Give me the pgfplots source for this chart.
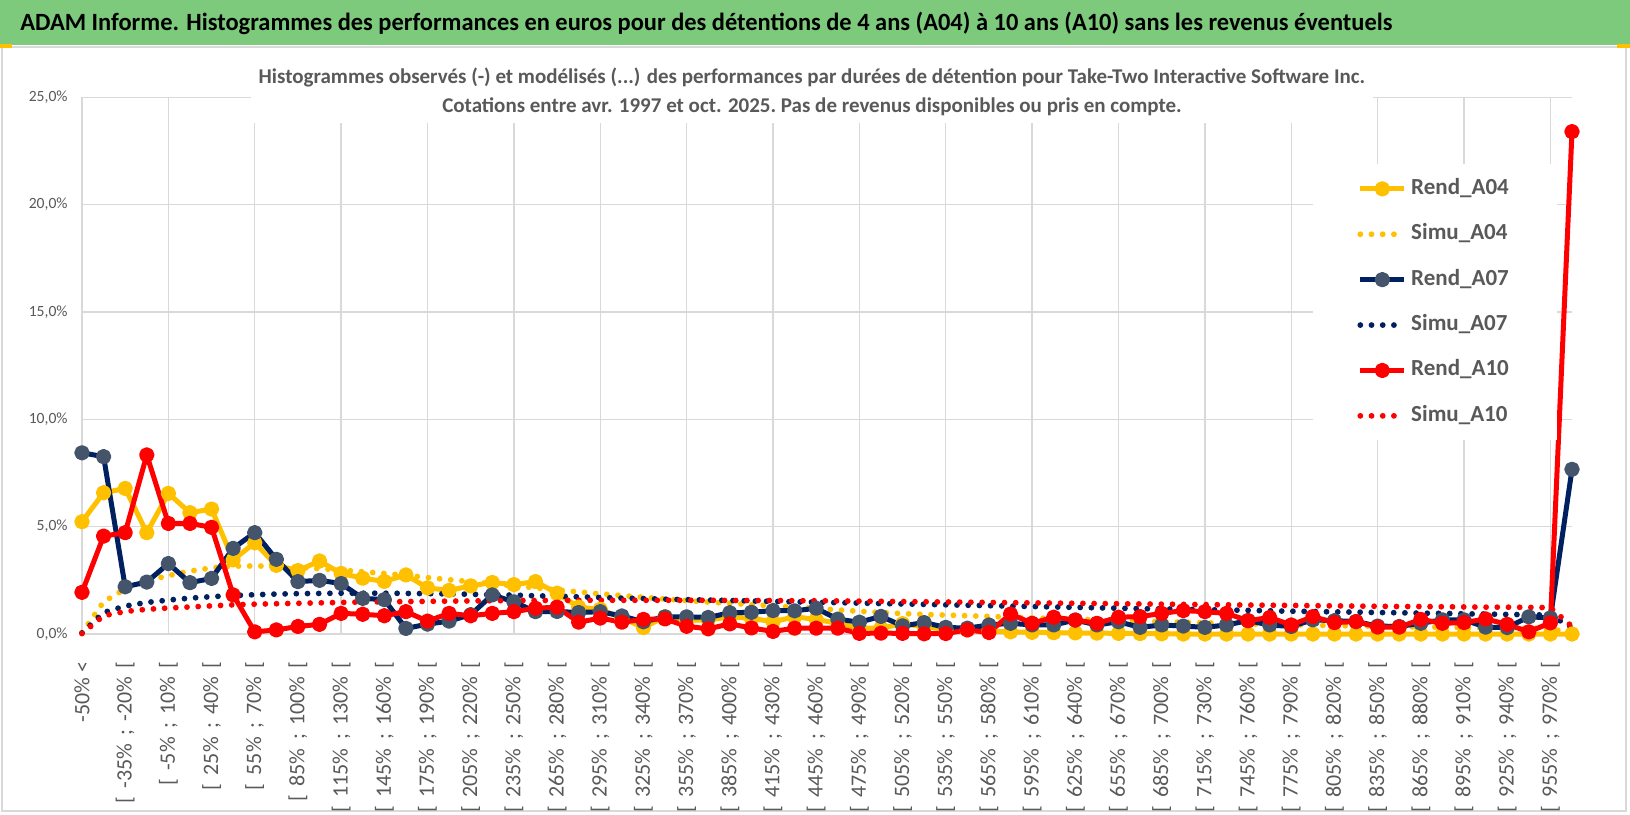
\documentclass[border=0pt]{standalone}
\usepackage{pgfplots}
\pgfplotsset{compat=1.18}
\usepackage{pgfplotstable}
\usepackage{graphicx}
\usepackage{fontspec}
\setmainfont{Carlito}

\definecolor{gold}{RGB}{255,192,0}
\definecolor{navy}{RGB}{0,32,96}
\definecolor{slate}{RGB}{68,84,106}
\definecolor{rred}{RGB}{255,0,0}
\definecolor{txtgrey}{RGB}{89,89,89}
\definecolor{gridgrey}{RGB}{217,217,217}
\definecolor{bargreen}{RGB}{125,202,125}

\newcommand{\lsp}{\hspace{0.38em}}
\newcommand{\lab}[2]{[\lsp#1\%\lsp;\lsp#2\%\lsp[}

\pgfplotstableread{
i a04 s04 a07 s07 a10 s10
0 5.23 0.05 8.44 0.05 1.94 0.02
1 6.58 1.5 8.26 1.0 4.56 0.85
2 6.78 2.1 2.2 1.3 4.72 1.05
3 4.72 2.48 2.42 1.47 8.34 1.15
4 6.55 2.72 3.28 1.58 5.15 1.21
5 5.65 2.93 2.39 1.67 5.15 1.26
6 5.82 3.08 2.59 1.74 4.97 1.31
7 3.45 3.16 3.99 1.79 1.82 1.36
8 4.25 3.17 4.72 1.83 0.1 1.39
9 3.2 3.15 3.48 1.86 0.19 1.41
10 2.95 3.1 2.44 1.88 0.35 1.43
11 3.4 3.04 2.5 1.89 0.45 1.45
12 2.82 2.98 2.35 1.9 0.96 1.47
13 2.6 2.9 1.66 1.9 0.92 1.49
14 2.45 2.82 1.6 1.9 0.85 1.5
15 2.75 2.73 0.26 1.89 1.04 1.51
16 2.15 2.63 0.46 1.88 0.6 1.52
17 2.03 2.53 0.6 1.87 0.96 1.53
18 2.24 2.44 0.9 1.85 0.85 1.54
19 2.4 2.34 1.82 1.83 0.96 1.55
20 2.3 2.25 1.5 1.81 1.04 1.56
21 2.44 2.15 1.04 1.78 1.2 1.56
22 1.9 2.05 1.05 1.76 1.25 1.57
23 1.25 1.96 1.0 1.73 0.55 1.57
24 1.15 1.87 1.04 1.7 0.74 1.57
25 0.75 1.79 0.84 1.67 0.55 1.57
26 0.3 1.71 0.57 1.65 0.68 1.57
27 0.8 1.63 0.8 1.62 0.7 1.57
28 0.65 1.56 0.8 1.6 0.36 1.57
29 0.65 1.49 0.77 1.58 0.24 1.57
30 0.8 1.43 0.99 1.56 0.47 1.56
31 0.73 1.37 1.01 1.54 0.28 1.56
32 0.57 1.31 1.09 1.52 0.12 1.56
33 0.8 1.25 1.08 1.5 0.27 1.55
34 0.68 1.19 1.2 1.48 0.27 1.55
35 0.5 1.12 0.69 1.46 0.27 1.54
36 0.27 1.06 0.55 1.44 0.03 1.53
37 0.27 1.0 0.82 1.42 0.04 1.52
38 0.48 0.95 0.38 1.4 0.03 1.51
39 0.34 0.91 0.53 1.38 0.01 1.5
40 0.22 0.88 0.31 1.36 0.02 1.49
41 0.19 0.85 0.27 1.34 0.19 1.48
42 0.12 0.82 0.42 1.32 0.07 1.47
43 0.1 0.79 0.5 1.3 0.93 1.46
44 0.08 0.75 0.42 1.28 0.5 1.45
45 0.06 0.72 0.42 1.26 0.78 1.44
46 0.05 0.69 0.65 1.24 0.65 1.43
47 0.04 0.66 0.42 1.22 0.5 1.42
48 0.03 0.63 0.57 1.2 0.78 1.41
49 0.02 0.6 0.31 1.18 0.81 1.4
50 0.01 0.57 0.42 1.17 0.96 1.39
51 0 0.55 0.37 1.15 1.09 1.38
52 0 0.52 0.31 1.13 1.04 1.37
53 0 0.5 0.42 1.12 0.96 1.36
54 0 0.47 0.62 1.1 0.62 1.35
55 0 0.45 0.42 1.08 0.77 1.34
56 0 0.43 0.35 1.06 0.42 1.33
57 0 0.41 0.66 1.05 0.81 1.32
58 0 0.39 0.62 1.03 0.53 1.31
59 0 0.38 0.58 1.02 0.58 1.3
60 0 0.36 0.37 1.0 0.32 1.29
61 0 0.34 0.35 0.99 0.32 1.28
62 0 0.33 0.5 0.97 0.68 1.28
63 0 0.32 0.66 0.96 0.5 1.27
64 0 0.3 0.66 0.94 0.53 1.26
65 0 0.29 0.32 0.93 0.7 1.25
66 0 0.28 0.3 0.91 0.45 1.25
67 0 0.27 0.8 0.9 0.1 1.24
68 0 0.26 0.75 0.88 0.52 1.23
69 0 0.02 7.67 0.3 23.4 0.35
}\histdata

\pgfplotsset{
  rend/.style={line width=2.5pt, line join=round, mark=*, mark size=2.6pt},
  simu/.style={line width=2.9pt, line cap=round, dash pattern=on 0pt off 5.6pt},
}

\begin{document}
\begin{tikzpicture}
\useasboundingbox (0,0) rectangle (815pt,407.5pt);
\fill[white] (0,0) rectangle (815pt,407.5pt);
\draw[gridgrey, line width=0.8pt] (1pt,2pt) rectangle (813pt,384pt);
\fill[bargreen] (0,385pt) rectangle (815pt,407.5pt);
\fill[gold] (0,383.5pt) rectangle (6pt,385.5pt);
\fill[gold] (808.5pt,383.5pt) rectangle (815pt,385.5pt);
\node[anchor=west, inner sep=0pt] at (10pt,396pt)
  {\resizebox{686pt}{\height}{\fontsize{12.4}{14}\selectfont\bfseries ADAM Informe. Histogrammes des performances en euros pour des détentions de 4 ans (A04) à 10 ans (A10) sans les revenus éventuels}};

\begin{axis}[
  at={(41pt,90.5pt)}, anchor=south west,
  scale only axis, width=745pt, height=268.35pt,
  xmin=0, xmax=69, ymin=0, ymax=25,
  clip=false,
  axis line style={draw=none},
  major tick length=0pt, minor tick length=0pt,
  tick style={draw=none},
  xmajorgrids=false, ymajorgrids=true,
  xminorgrids=true,
  grid style={draw=gridgrey, line width=0.7pt},
  minor grid style={draw=gridgrey, line width=0.7pt},
  ytick={0,5,10,15,20,25},
  yticklabels={{0,0\%},{5,0\%},{10,0\%},{15,0\%},{20,0\%},{25,0\%}},
  yticklabel style={font=\fontsize{7.8}{9}\selectfont, text=txtgrey, inner sep=0pt},
  yticklabel shift=7pt,
  xtick={0,2,...,68},
  minor xtick={0,4,...,68},
  xticklabels={{-50\% <},{\lab{-35}{-20}},{\lab{-5}{10}},{\lab{25}{40}},{\lab{55}{70}},{\lab{85}{100}},{\lab{115}{130}},{\lab{145}{160}},{\lab{175}{190}},{\lab{205}{220}},{\lab{235}{250}},{\lab{265}{280}},{\lab{295}{310}},{\lab{325}{340}},{\lab{355}{370}},{\lab{385}{400}},{\lab{415}{430}},{\lab{445}{460}},{\lab{475}{490}},{\lab{505}{520}},{\lab{535}{550}},{\lab{565}{580}},{\lab{595}{610}},{\lab{625}{640}},{\lab{655}{670}},{\lab{685}{700}},{\lab{715}{730}},{\lab{745}{760}},{\lab{775}{790}},{\lab{805}{820}},{\lab{835}{850}},{\lab{865}{880}},{\lab{895}{910}},{\lab{925}{940}},{\lab{955}{970}}},
  xticklabel style={rotate=90, anchor=east, font=\fontsize{11}{12}\selectfont, text=txtgrey, inner sep=0pt},
  xticklabel shift=13.5pt,
  legend cell align=left,
  legend style={at={(0.8262,0.8758)}, anchor=north west, draw=none, fill=white,
    inner xsep=22pt, inner ysep=5pt, row sep=8.2pt,
    font=\fontsize{11.5}{13}\selectfont\bfseries, text=txtgrey,
    nodes={inner sep=2pt, text height=8pt, text depth=2.5pt}},
  legend image code/.code={\draw[mark repeat=2,mark phase=2,#1] plot coordinates {(0pt,0pt) (11pt,0pt) (22pt,0pt)};},
]
\addplot[rend, color=gold, mark options={fill=gold, draw=gold}] table[x=i, y=a04] {\histdata};
\addlegendentry{Rend\_A04}
\addplot[simu, color=gold] table[x=i, y=s04] {\histdata};
\addlegendentry{Simu\_A04}
\addplot[rend, color=navy, mark options={fill=slate, draw=slate}] table[x=i, y=a07] {\histdata};
\addlegendentry{Rend\_A07}
\addplot[simu, color=navy] table[x=i, y=s07] {\histdata};
\addlegendentry{Simu\_A07}
\addplot[rend, color=rred, mark options={fill=rred, draw=rred}] table[x=i, y=a10] {\histdata};
\addlegendentry{Rend\_A10}
\addplot[simu, color=rred] table[x=i, y=s10] {\histdata};
\addlegendentry{Simu\_A10}
\end{axis}

\node[fill=white, inner sep=0pt, minimum width=561pt, minimum height=31pt, align=center,
  font=\fontsize{10.5}{14.5}\selectfont\bfseries, text=txtgrey] at (406pt,361.5pt)
  {Histogrammes observés (-) et modélisés (...) des performances par durées de détention pour Take-Two Interactive Software Inc.\\
   Cotations entre avr. 1997 et oct. 2025.\ Pas de revenus disponibles ou pris en compte.};
\end{tikzpicture}
\end{document}
